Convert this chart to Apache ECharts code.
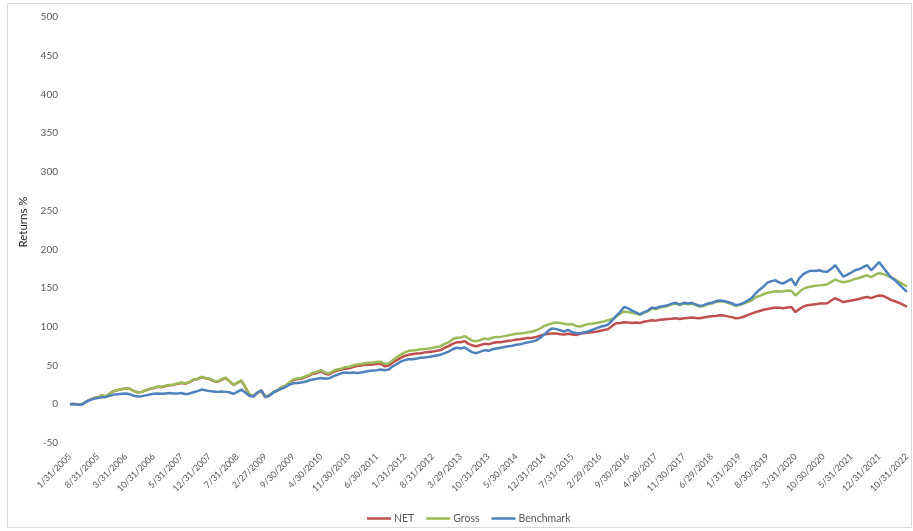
<!DOCTYPE html>
<html>
<head>
<meta charset="utf-8">
<script src="https://cdn.jsdelivr.net/npm/echarts@6/dist/echarts.min.js"></script>
<style>
html,body{margin:0;padding:0;background:#fff;}
#chart{width:913px;height:531px;}
</style>
</head>
<body>
<div id="chart"></div>
<script>
// Month-end (last weekday) dates, Jan 2005 - Jun 2022, then Oct 2022
function lastWeekday(y, m) {
  const d = new Date(Date.UTC(y, m + 1, 0));
  while (d.getUTCDay() === 0 || d.getUTCDay() === 6) d.setUTCDate(d.getUTCDate() - 1);
  return (m + 1) + '/' + d.getUTCDate() + '/' + y;
}
const categories = [];
for (let y = 2005; y <= 2022; y++) {
  for (let m = 0; m < 12; m++) {
    if (y === 2022 && m > 5 && m !== 9) continue;
    categories.push(lastWeekday(y, m));
  }
}

const seriesNames = ['NET', 'Gross', 'Benchmark'];

const netValues = [
  0, 0.5, -0.5, 0, 3, 6, 8, 9, 11.5, 10, 14, 17,
  18.5, 19.5, 20.5, 20, 17, 15.5, 16, 18, 19.5, 21, 22.5, 22,
  23.5, 24.5, 25, 26.5, 27.5, 26.5, 28.5, 31.5, 32.5, 35, 33.5, 32.5,
  30, 29, 31.5, 34, 29.5, 25, 27.5, 30.5, 21.5, 12.5, 10.5, 14.5,
  17.5, 9, 11.5, 15.5, 17.5, 21.5, 23.5, 27, 31, 32.5, 33, 35,
  37, 39.5, 40.5, 42.5, 39.5, 38.5, 41.5, 43.5, 44.5, 46, 46.5, 48,
  49.5, 50, 51, 51, 51.5, 52, 52, 49, 50, 54, 57, 60,
  62.5, 64, 65, 65.5, 66, 67, 67.5, 68, 69, 70, 73, 75,
  78, 80, 80, 81.5, 78, 76, 75, 76.5, 78, 77.5, 79, 80,
  80, 81, 82, 82.5, 83.5, 84, 85, 85.5, 86, 87, 88.5, 90,
  91, 91.5, 91.5, 90.5, 90, 91, 90, 89.5, 91, 92, 92.5, 93,
  93.5, 95, 96, 97, 101, 104.5, 105, 106, 105.5, 105, 105.5, 105,
  106.5, 107.5, 108.5, 108, 109, 109.5, 110, 110.5, 111, 110, 111, 111.5,
  112, 111.5, 111, 112, 113, 113.5, 114, 115, 114.5, 113.5, 112.5, 111,
  111.5, 113, 115, 117, 119, 120.5, 122, 123, 124, 125, 124.5, 124,
  125, 125.5, 119, 123, 126, 128, 128.5, 129, 130, 130, 130.5, 134,
  137, 134.5, 132, 133, 134, 135, 136, 137.5, 138.5, 137, 139, 140.5,
  140, 137.5, 134.5, 133, 131, 128.5, 126
];

const grossValues = [
  0, 0.5, -0.5, 0, 3, 6, 8, 9, 11.5, 10, 14, 17,
  18.5, 19.5, 20.5, 20, 17, 15.5, 16, 18, 20, 21.5, 23, 22.5,
  24, 25, 25.5, 27, 28, 27, 29, 32, 33, 35.5, 34, 33,
  30.5, 29.5, 32, 34.5, 30, 25.5, 28, 31, 22, 13, 11, 15,
  18, 9.5, 12, 16, 18, 22, 24, 28, 32, 33.5, 34, 36,
  38, 41, 42, 44, 41, 40, 43, 45, 46, 48, 48.5, 50,
  51.5, 52, 53, 53.5, 54, 54.5, 55, 52, 53, 57, 61, 64,
  67, 69, 69.5, 70, 71, 71.5, 72, 73, 74, 75, 78, 80,
  84, 86, 86, 88, 85, 82, 81.5, 83, 85, 84, 86, 87,
  87, 88, 89, 90, 91, 91.5, 92, 93, 94, 95.5, 98, 101,
  103, 104.5, 105.5, 105, 104, 103, 103.5, 101, 100.5, 102, 103.5, 104,
  105, 106, 107, 108.5, 110, 113, 117, 119.5, 119, 118, 117, 115.5,
  118, 120, 123.5, 123, 125, 126, 127, 129, 130, 128, 130, 129,
  130, 128, 126, 127, 129, 130, 132, 133, 132.5, 131, 129.5, 127,
  128, 130, 132, 134, 138, 140, 142, 144, 145, 146, 145.5, 146,
  147, 146.5, 140.5, 145, 149, 151, 152, 153, 153.5, 154, 155, 158,
  161, 159, 157.5, 158.5, 160, 162, 163, 165, 166.5, 164, 167, 169.5,
  168, 166, 164, 161, 158, 155, 152
];

const benchmarkValues = [
  0, 0.3, -0.5, -0.3, 3, 5.5, 7, 8, 9, 9.5, 11, 12.5,
  13, 13.5, 14, 13, 11, 10, 10.5, 11.5, 12.5, 13.5, 14, 13.5,
  14, 14.5, 14, 14, 14.5, 13, 14, 15.5, 17, 19, 18, 17,
  16.5, 16, 16.5, 16, 15.5, 13.5, 16, 19, 15, 11, 10, 15,
  18, 9.5, 11, 15, 18, 20, 22, 25, 27, 27.5, 28, 29,
  31, 32, 33, 34, 33, 33.5, 36, 38, 40, 41, 40.5, 41,
  40.5, 41, 42, 43, 43.5, 44, 45, 44, 45, 49, 52, 55,
  57, 58, 58, 59, 60, 60.5, 61, 62, 63, 64, 66, 68,
  71, 73, 72, 73.5, 70, 67, 66, 68, 70, 69, 71, 72,
  73, 74, 75, 75.5, 77, 77.5, 79, 80, 81, 82.5, 86, 90,
  95, 98, 97, 95.5, 94, 96, 93, 92, 91.5, 93, 94, 96,
  98, 100, 101, 103, 108, 114, 119, 125.5, 124, 121, 118.5, 116,
  119, 121, 125, 124, 126, 127, 128, 130, 131, 129, 131, 130,
  131, 129, 127, 128, 130, 131, 133, 134, 133.5, 132, 130.5, 128,
  129, 131, 134, 137, 143, 148, 152, 157, 159, 160, 157, 156,
  159, 162, 153.5, 163, 168, 171, 172.5, 172, 173, 171.5, 171, 175,
  179.5, 172, 165, 167, 170, 173, 174.5, 177, 179.5, 173, 178, 183.5,
  177, 170, 164, 160, 155, 150, 145
];

const yTicks = { min: -50, max: 500, interval: 50 };
const colors = ['#C0504D', '#9BBB59', '#4F81BD'];
const FONT = 'Lato, "Liberation Sans", sans-serif';

const chart = echarts.init(document.getElementById('chart'));
chart.setOption({
  animation: false,
  backgroundColor: '#fff',
  color: colors,
  textStyle: { fontFamily: FONT },
  graphic: [{
    type: 'rect',
    shape: { x: 7.5, y: 3.5, width: 904, height: 524 },
    style: { fill: 'none', stroke: '#d9d9d9', lineWidth: 1 },
    silent: true, z: -1
  }],
  grid: { left: 70, right: 6, top: 17, bottom: 88, containLabel: false },
  legend: {
    data: seriesNames,
    left: 362, top: 508,
    icon: 'rect',
    itemWidth: 24, itemHeight: 2.5, itemGap: 12,
    textStyle: { color: '#595959', fontSize: 10.5, fontFamily: FONT, padding: [0, 0, 0, -2] }
  },
  xAxis: {
    type: 'category',
    data: categories,
    boundaryGap: false,
    axisLine: { show: false, onZero: false },
    axisTick: { show: false },
    splitLine: { show: false },
    axisLabel: {
      rotate: 45,
      interval: function (i) { return i % 7 === 0; },
      color: '#595959',
      fontSize: 9,
      margin: 12,
      fontFamily: FONT
    }
  },
  yAxis: {
    type: 'value',
    min: yTicks.min, max: yTicks.max, interval: yTicks.interval,
    name: 'Returns %',
    nameLocation: 'middle',
    nameGap: 38,
    nameTextStyle: { color: '#262626', fontSize: 11.5, fontFamily: FONT, padding: [0, 0, 0, 16] },
    axisLine: { show: false },
    axisTick: { show: false },
    splitLine: { show: false },
    axisLabel: { color: '#595959', fontSize: 10, margin: 12, fontFamily: FONT }
  },
  series: [
    { name: seriesNames[0], type: 'line', data: netValues, symbol: 'none', lineStyle: { width: 2.5 } },
    { name: seriesNames[1], type: 'line', data: grossValues, symbol: 'none', lineStyle: { width: 2.5 } },
    { name: seriesNames[2], type: 'line', data: benchmarkValues, symbol: 'none', lineStyle: { width: 2.5 } }
  ]
});
</script>
</body>
</html>
